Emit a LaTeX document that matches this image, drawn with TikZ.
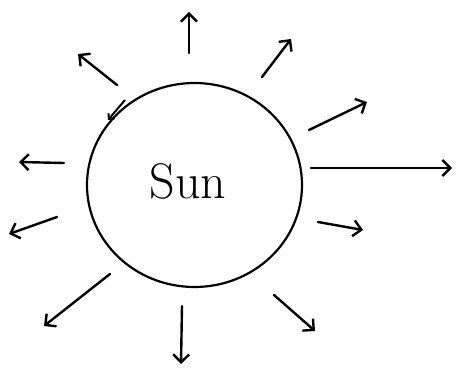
\documentclass[tikz,border=0pt]{standalone}
\usetikzlibrary{arrows.meta}
\begin{document}
\begin{tikzpicture}[x=1pt,y=-1pt,
  ray/.style={line width=2.4pt,line cap=round,-{Straight Barb[length=8pt,width=16pt,line width=2.4pt]}},
  sunedge/.style={draw,line width=2.2pt}]
\useasboundingbox (0,0) rectangle (456,369);
\draw[sunedge] (194.5,185) ellipse [x radius=107.5,y radius=102];
\node (sunlabel) at (188,181) {\fontsize{50}{60}\selectfont Sun};
% ray coordinates
\coordinate (s1) at (189,53);  \coordinate (e1) at (189,12);
\coordinate (s2) at (117,85);  \coordinate (e2) at (78,54);
\coordinate (s3) at (262,77);  \coordinate (e3) at (291,39);
\coordinate (s4) at (309,130); \coordinate (e4) at (367,102);
\coordinate (s5) at (311,168); \coordinate (e5) at (452,168);
\coordinate (s6) at (318,222); \coordinate (e6) at (363,230);
\coordinate (s7) at (274,295); \coordinate (e7) at (315,331);
\coordinate (s8) at (182,306); \coordinate (e8) at (181,364);
\coordinate (s9) at (110,274); \coordinate (e9) at (44,326);
\coordinate (s10) at (57,217); \coordinate (e10) at (9,234);
\coordinate (s11) at (64,163); \coordinate (e11) at (19,162);
\coordinate (s12) at (125,100); \coordinate (e12) at (108,120);
\foreach \i in {1,...,11} \draw[ray] (s\i) -- (e\i);
\draw[line width=2pt,-{Straight Barb[length=4pt,width=8pt,line width=2pt]}] (s12) -- (e12);
\end{tikzpicture}
\end{document}
